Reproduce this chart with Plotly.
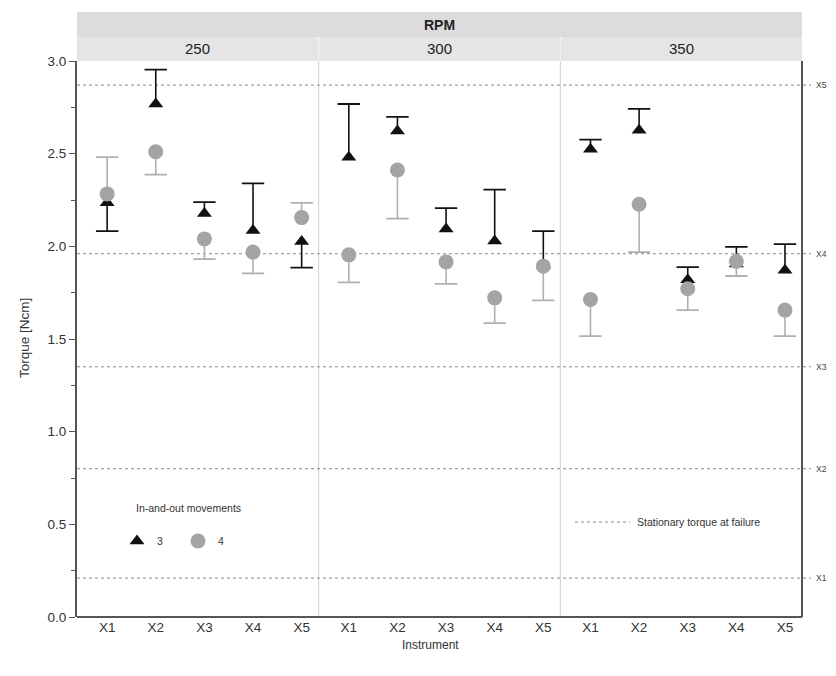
import plotly.graph_objects as go
from plotly.subplots import make_subplots

# ---------------- data ----------------
rpm_levels = ["250", "300", "350"]
instruments = ["X1", "X2", "X3", "X4", "X5"]

# series "3" (in-and-out movements = 3): mean torque and error-bar end (cap) value
mean3_250 = [2.235, 2.768, 2.177, 2.086, 2.026]
cap3_250 = [2.082, 2.954, 2.239, 2.340, 1.885]
mean3_300 = [2.481, 2.622, 2.094, 2.029, 1.897]
cap3_300 = [2.768, 2.699, 2.206, 2.306, 2.082]
mean3_350 = [2.524, 2.627, 1.820, 1.905, 1.871]
cap3_350 = [2.576, 2.742, 1.888, 1.997, 2.012]

# series "4"
mean4_250 = [2.283, 2.510, 2.040, 1.969, 2.155]
cap4_250 = [2.481, 2.387, 1.931, 1.854, 2.235]
mean4_300 = [1.954, 2.412, 1.916, 1.722, 1.893]
cap4_300 = [1.806, 2.149, 1.797, 1.586, 1.708]
mean4_350 = [1.713, 2.227, 1.771, 1.919, 1.656]
cap4_350 = [1.515, 1.969, 1.656, 1.840, 1.515]

# stationary torque at failure per instrument
stationary_labels = ["X1", "X2", "X3", "X4", "X5"]
stationary_torque = [0.21, 0.80, 1.35, 1.96, 2.87]

series3 = {"250": (mean3_250, cap3_250), "300": (mean3_300, cap3_300), "350": (mean3_350, cap3_350)}
series4 = {"250": (mean4_250, cap4_250), "300": (mean4_300, cap4_300), "350": (mean4_350, cap4_350)}

# ---------------- geometry (screen px; page body has an 8px margin) ----------------
W, H = 828, 660
OFF = 8
SX0, SX1, SY0, SY1 = 77, 802, 61, 617   # plot area on screen
L, T = SX0 - OFF, SY0 - OFF
R, B = W - (SX1 - OFF), H - (SY1 - OFF)
PW, PH = SX1 - SX0, SY1 - SY0


def px(sx):
    return (sx - SX0) / PW


def py(sy):
    return (SY1 - sy) / PH


fig = make_subplots(rows=1, cols=3, shared_yaxes=True, horizontal_spacing=0)

FONT = "Liberation Sans, Arial, sans-serif"
BLACK = "#111111"
GRAY = "#a4a4a4"
GRAY_BAR = "#b0b0b0"


def err_parts(means, caps):
    up = [max(c - m, 0) for m, c in zip(means, caps)]
    dn = [max(m - c, 0) for m, c in zip(means, caps)]
    return up, dn


def add_series(i, means, caps, name, symbol, size, mcolor, bcolor):
    up, dn = err_parts(means, caps)
    # caps of the one-sided error bars
    fig.add_trace(go.Scatter(
        x=instruments, y=caps, mode="markers", showlegend=False, hoverinfo="skip",
        marker=dict(symbol="line-ew", size=16, line=dict(width=1.8, color=bcolor)),
    ), row=1, col=i + 1)
    # mean markers with error stems
    fig.add_trace(go.Scatter(
        x=instruments, y=means, mode="markers", name=name, legendgroup=name,
        showlegend=(i == 0),
        marker=dict(symbol=symbol, size=size, color=mcolor),
        error_y=dict(type="data", symmetric=False, array=up, arrayminus=dn,
                     color=bcolor, thickness=1.6, width=0),
    ), row=1, col=i + 1)


for i, r in enumerate(rpm_levels):
    m3, c3 = series3[r]
    add_series(i, m3, c3, "3", "triangle-up", 13, BLACK, BLACK)
    m4, c4 = series4[r]
    add_series(i, m4, c4, "4", "circle", 15, GRAY, GRAY_BAR)

for i in range(3):
    fig.update_xaxes(
        row=1, col=i + 1, type="category", categoryorder="array", categoryarray=instruments,
        range=[-0.62, 4.35], showgrid=False, zeroline=False, showline=False, ticks="",
        tickfont=dict(family=FONT, size=13.5, color="#333"), automargin=False,
    )

fig.update_yaxes(
    row=1, col=1, range=[0, 3], dtick=0.5, tickformat=".1f", showgrid=False, zeroline=False,
    showline=True, linecolor="#555", linewidth=2, ticks="outside", ticklen=6, tickcolor="#555",
    tickfont=dict(family=FONT, size=13.5, color="#333"), automargin=False,
    minor=dict(dtick=0.25, ticks="outside", ticklen=4, tickcolor="#555"),
)
for c in (2, 3):
    fig.update_yaxes(row=1, col=c, range=[0, 3], showgrid=False, zeroline=False, showline=False,
                     ticks="", automargin=False)

shapes = []
# header bands
shapes.append(dict(type="rect", xref="paper", yref="paper", x0=0, x1=1, y0=py(37), y1=py(12),
                   fillcolor="#dcdcdc", line=dict(width=0), layer="below"))
shapes.append(dict(type="rect", xref="paper", yref="paper", x0=0, x1=1, y0=py(SY0), y1=py(37),
                   fillcolor="#e5e5e5", line=dict(width=0), layer="below"))
for xb in (1 / 3, 2 / 3):
    shapes.append(dict(type="line", xref="paper", yref="paper", x0=xb, x1=xb, y0=py(SY0), y1=py(37),
                       line=dict(color="#f5f5f5", width=1)))
    shapes.append(dict(type="line", xref="paper", yref="paper", x0=xb, x1=xb, y0=0, y1=1,
                       line=dict(color="#cfcfcf", width=1), layer="below"))
# bottom axis and right border
shapes.append(dict(type="line", xref="paper", yref="paper", x0=0, x1=1, y0=0, y1=0,
                   line=dict(color="#555", width=2)))
shapes.append(dict(type="line", xref="paper", yref="paper", x0=1, x1=1, y0=0, y1=1,
                   line=dict(color="#555", width=2)))
# stationary torque reference lines
for v in stationary_torque:
    shapes.append(dict(type="line", xref="paper", yref="y", x0=0, x1=px(811), y0=v, y1=v,
                       line=dict(color="#8a8a8a", width=1, dash="dot"), layer="below"))
# legend key for the reference lines
shapes.append(dict(type="line", xref="paper", yref="paper", x0=px(575), x1=px(630), y0=py(522), y1=py(522),
                   line=dict(color="#8a8a8a", width=1, dash="dot")))

annotations = []
annotations.append(dict(text="<b>RPM</b>", xref="paper", yref="paper", x=0.5, y=py(24.5),
                        showarrow=False, font=dict(family=FONT, size=14, color="#222"),
                        xanchor="center", yanchor="middle"))
for i, r in enumerate(rpm_levels):
    annotations.append(dict(text=r, xref="paper", yref="paper", x=(i + 0.5) / 3, y=py(49),
                            showarrow=False, font=dict(family=FONT, size=15, color="#222"),
                            xanchor="center", yanchor="middle"))
for lab, v in zip(stationary_labels, stationary_torque):
    annotations.append(dict(text=lab, xref="paper", yref="y", x=px(814), y=v,
                            showarrow=False, font=dict(family=FONT, size=8.5, color="#444"),
                            xanchor="left", yanchor="middle"))
annotations.append(dict(text="Instrument", xref="paper", yref="paper", x=px(430), y=py(645),
                        showarrow=False, font=dict(family=FONT, size=12, color="#333"),
                        xanchor="center", yanchor="middle"))
annotations.append(dict(text="Torque [Ncm]", xref="paper", yref="paper", x=px(24), y=py(338),
                        showarrow=False, textangle=-90, font=dict(family=FONT, size=13.5, color="#333"),
                        xanchor="center", yanchor="middle"))
annotations.append(dict(text="In-and-out movements", xref="paper", yref="paper", x=px(134), y=py(508),
                        showarrow=False, font=dict(family=FONT, size=10.5, color="#333"),
                        xanchor="left", yanchor="middle"))
annotations.append(dict(text="Stationary torque at failure", xref="paper", yref="paper", x=px(635), y=py(522),
                        showarrow=False, font=dict(family=FONT, size=10.5, color="#333"),
                        xanchor="left", yanchor="middle"))

fig.update_layout(
    width=W, height=H, margin=dict(l=L, r=R, t=T, b=B, autoexpand=False),
    paper_bgcolor="white", plot_bgcolor="white",
    shapes=shapes, annotations=annotations,
    font=dict(family=FONT, color="#333"),
    legend=dict(
        orientation="h", x=px(117), y=py(541), xanchor="left", yanchor="middle",
        font=dict(family=FONT, size=10.5, color="#333"), bgcolor="rgba(0,0,0,0)",
        itemwidth=30, entrywidth=16, entrywidthmode="pixels",
    ),
)

fig.write_html("out.html")
